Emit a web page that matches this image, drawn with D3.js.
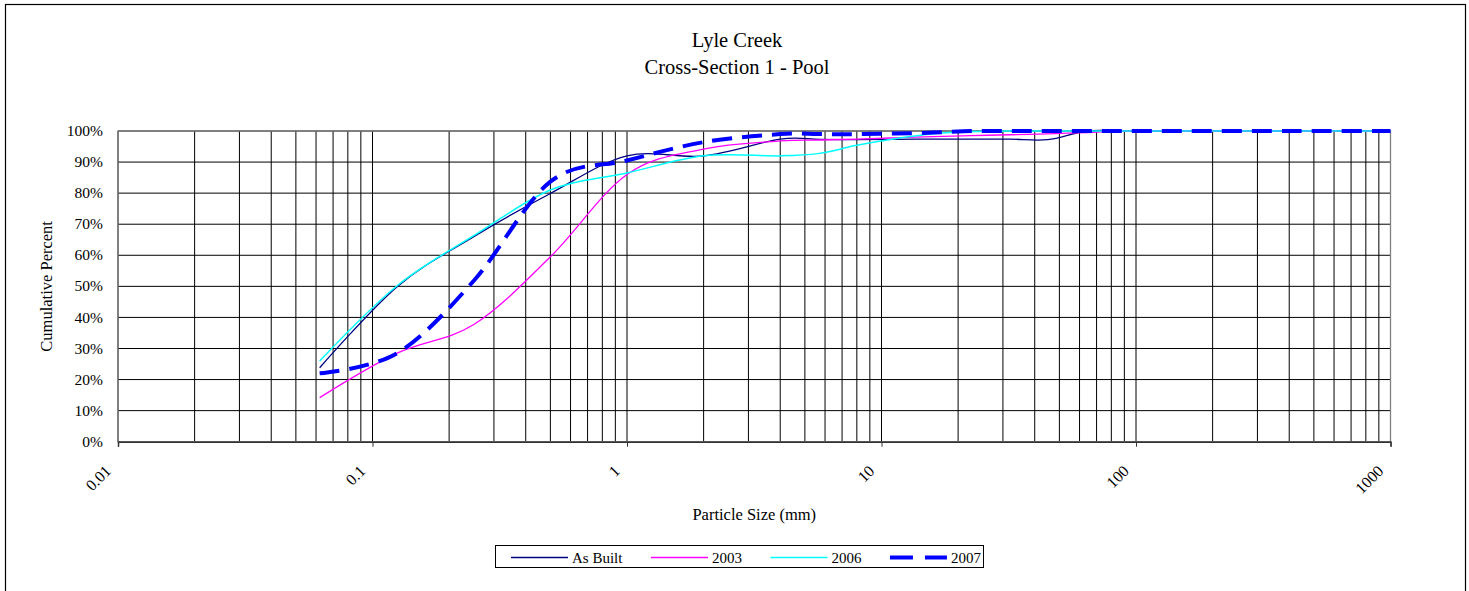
<!DOCTYPE html>
<html>
<head>
<meta charset="utf-8">
<script src="https://cdn.jsdelivr.net/npm/d3@7"></script>
<style>
  body { margin: 0; background: #fff; }
  svg text { font-family: "Liberation Serif", "Times New Roman", serif; fill: #000; }
</style>
</head>
<body>
<svg width="1469" height="591"></svg>
<script>
// particle sizes (mm) of the sieve classes
const sizes = [0.062, 0.125, 0.25, 0.5, 1, 2, 4, 5.7, 8, 11.3, 16, 22.6, 32, 45, 64, 90, 128, 180, 256, 362, 512, 1024]

// cumulative percent finer, one array per survey
const asBuilt = [23.8, 49.9, 66.0, 79.9, 92.0, 92.0, 97.4, 97.3, 97.2, 97.3, 97.4, 97.4, 97.4, 97.2, 100, 100, 100, 100, 100, 100, 100, 100]
const y2003   = [14.2, 28.5, 37.7, 59.5, 86.0, 94.2, 96.8, 97.1, 97.4, 97.8, 98.2, 98.5, 98.8, 99.1, 99.5, 100, 100, 100, 100, 100, 100, 100]
const y2006   = [26.0, 50.2, 66.3, 81.0, 86.5, 92.0, 92.0, 92.8, 95.4, 97.5, 99.1, 99.8, 100, 100, 100, 100, 100, 100, 100, 100, 100, 100]
const y2007   = [22.0, 28.5, 51.8, 83.7, 90.5, 96.4, 99.0, 99.0, 99.0, 99.2, 99.5, 100, 100, 100, 100, 100, 100, 100, 100, 100, 100, 100]

const seriesNames = ['As Built', '2003', '2006', '2007']
const xTicks = [0.01, 0.1, 1, 10, 100, 1000]
const yTicks = d3.range(0, 101, 10)

const series = [
  {name: seriesNames[0], values: asBuilt, color: '#000080', width: 1.3, dash: null},
  {name: seriesNames[1], values: y2003, color: '#ff00ff', width: 1.3, dash: null},
  {name: seriesNames[2], values: y2006, color: '#00ffff', width: 1.5, dash: null},
  {name: seriesNames[3], values: y2007, color: '#0000ff', width: 4, dash: '20,10'}
]

const svg = d3.select('svg')

// outer chart frame
svg.append('rect')
  .attr('x', 5.5).attr('y', 4.5)
  .attr('width', 1460).attr('height', 600)
  .attr('fill', 'none').attr('stroke', '#000').attr('stroke-width', 1.2)

const x = d3.scaleLog().domain([0.01, 1000]).range([118, 1390.5])
const y = d3.scaleLinear().domain([0, 100]).range([441.7, 131])

// title
svg.append('text').attr('x', 737).attr('y', 47).attr('text-anchor', 'middle')
  .style('font-size', '20.5px').text('Lyle Creek')
svg.append('text').attr('x', 737).attr('y', 74).attr('text-anchor', 'middle')
  .style('font-size', '20.5px').text('Cross-Section 1 - Pool')

// vertical grid at every log step
let vLines = []
for (let k = -2; k < 3; k++) {
  for (let i = 1; i < 10; i++) vLines.push(i * Math.pow(10, k))
}
vLines.push(1000)

const grid = svg.append('g')
grid.selectAll('line.v')
  .data(vLines)
  .enter().append('line')
    .attr('x1', d => x(d)).attr('x2', d => x(d))
    .attr('y1', y(100)).attr('y2', y(0))
    .attr('stroke', '#000').attr('stroke-width', 1)

grid.selectAll('line.h')
  .data(yTicks)
  .enter().append('line')
    .attr('x1', x(0.01)).attr('x2', x(1000))
    .attr('y1', d => y(d)).attr('y2', d => y(d))
    .attr('stroke', '#000').attr('stroke-width', 1)

// plot area border
svg.append('rect')
  .attr('x', x(0.01)).attr('y', y(100))
  .attr('width', x(1000) - x(0.01)).attr('height', y(0) - y(100))
  .attr('fill', 'none').attr('stroke', '#808080').attr('stroke-width', 1.3)

// x axis
const xAxis = svg.append('g').attr('transform', `translate(0,${y(0)})`)
  .call(d3.axisBottom(x).tickValues(xTicks).tickSize(5).tickFormat(''))
xAxis.select('.domain').attr('stroke', '#333').attr('stroke-width', 1.5)
xAxis.selectAll('.tick line').attr('stroke', '#333')

svg.append('g').selectAll('text')
  .data(xTicks)
  .enter().append('text')
    .attr('transform', d => `translate(${x(d) - 6},472) rotate(-45)`)
    .attr('text-anchor', 'end')
    .style('font-size', '16px')
    .text(d => d3.format('~g')(d))

// y labels
svg.append('g').selectAll('text')
  .data(yTicks)
  .enter().append('text')
    .attr('x', 103).attr('y', d => y(d))
    .attr('dy', '0.33em')
    .attr('text-anchor', 'end')
    .style('font-size', '15.5px')
    .text(d => d + '%')

// axis titles
svg.append('text')
  .attr('transform', `translate(52,${(y(0) + y(100)) / 2}) rotate(-90)`)
  .attr('text-anchor', 'middle')
  .style('font-size', '16.5px')
  .text('Cumulative Percent')

svg.append('text')
  .attr('x', (x(0.01) + x(1000)) / 2).attr('y', 520)
  .attr('text-anchor', 'middle')
  .style('font-size', '16.5px')
  .text('Particle Size (mm)')

// curves
svg.append('clipPath').attr('id', 'plotClip')
  .append('rect')
    .attr('x', x(0.01)).attr('y', y(100) - 4)
    .attr('width', x(1000) - x(0.01)).attr('height', y(0) - y(100) + 4)

const line = d3.line()
  .x((d, i) => x(sizes[i]))
  .y(d => y(d))
  .curve(d3.curveCardinal.tension(0))

svg.append('g').attr('clip-path', 'url(#plotClip)')
  .selectAll('path')
  .data(series)
  .enter().append('path')
    .attr('d', d => line(d.values))
    .attr('fill', 'none')
    .attr('stroke', d => d.color)
    .attr('stroke-width', d => d.width)
    .attr('stroke-dasharray', d => d.dash)

// legend
const legend = svg.append('g')
legend.append('rect')
  .attr('x', 495.5).attr('y', 545.5)
  .attr('width', 488).attr('height', 22)
  .attr('fill', '#fff').attr('stroke', '#000').attr('stroke-width', 1)

let lx = 511
series.forEach(s => {
  legend.append('line')
    .attr('x1', lx).attr('x2', lx + 57)
    .attr('y1', 557.5).attr('y2', 557.5)
    .attr('stroke', s.color)
    .attr('stroke-width', s.dash ? 4 : 1.5)
    .attr('stroke-dasharray', s.dash ? '23,12' : null)
  const t = legend.append('text')
    .attr('x', lx + 61).attr('y', 562.5)
    .style('font-size', '15px')
    .text(s.name)
  lx += 57 + 4 + t.node().getComputedTextLength() + 28.5
})
</script>
</body>
</html>
